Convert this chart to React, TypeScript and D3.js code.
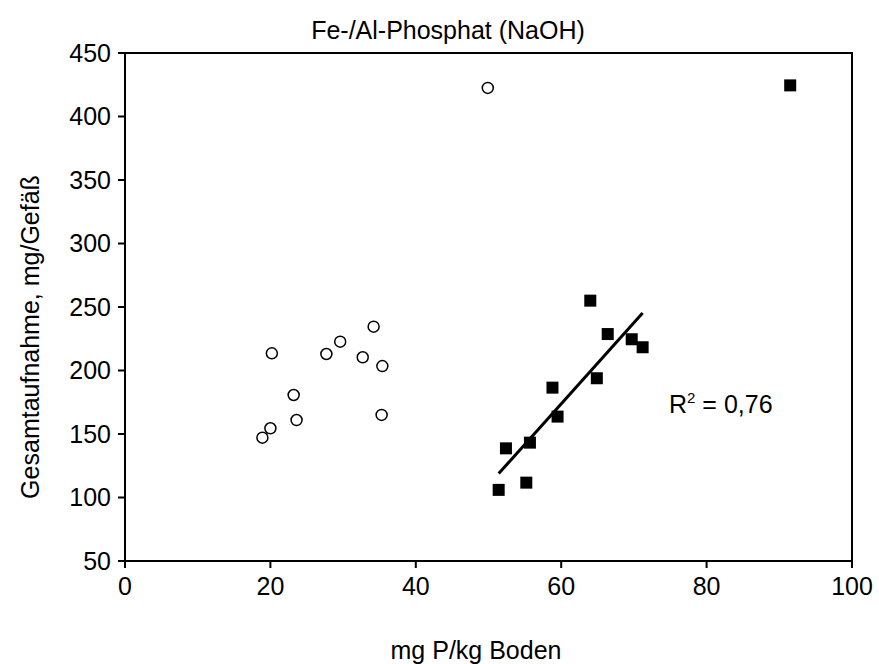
import React from "react";
import * as d3 from "d3";

const openX = [34.2, 29.6, 20.2, 27.7, 32.7, 35.4, 23.2, 23.6, 35.3, 20.0, 18.9, 49.9];
const openY = [234.5, 222.7, 213.5, 213, 210.4, 203.5, 180.7, 161, 165, 154.5, 147.1, 422.5];
const fillX = [64.0, 66.4, 69.7, 71.2, 64.9, 58.8, 59.5, 55.7, 52.4, 55.2, 51.4, 91.5];
const fillY = [255, 228.7, 224.6, 218.3, 193.9, 186.5, 163.7, 143.2, 138.7, 111.7, 106, 424.5];
const xTicks = [0, 20, 40, 60, 80, 100];
const yTicks = [50, 100, 150, 200, 250, 300, 350, 400, 450];
const title = "Fe-/Al-Phosphat (NaOH)";
const xLabel = "mg P/kg Boden";
const yLabel = "Gesamtaufnahme, mg/Gefäß";
const r2Text = "0,76";

const W = 879, H = 664;
const L = 125, R = 852, T = 53, B = 561;
const font = "Arial, 'Liberation Sans', sans-serif";
const fs = 25;

export default function App() {
  const x = d3.scaleLinear().domain([0, 100]).range([L, R]);
  const y = d3.scaleLinear().domain([50, 450]).range([B, T]);

  // regression over filled points excluding outlier (last)
  const rx = fillX.slice(0, 11), ry = fillY.slice(0, 11);
  const mx = d3.mean(rx)!, my = d3.mean(ry)!;
  let sxy = 0, sxx = 0;
  rx.forEach((v, i) => { sxy += (v - mx) * (ry[i] - my); sxx += (v - mx) ** 2; });
  const slope = sxy / sxx, icpt = my - slope * mx;
  const [x0, x1] = d3.extent(rx) as [number, number];

  return (
    <svg width={W} height={H} style={{ position: "absolute", left: 0, top: 0, background: "#fff" }}
      fontFamily={font}>
      <rect x={0} y={0} width={W} height={H} fill="#fff" />
      <text x={448} y={39} textAnchor="middle" fontSize={fs}>{title}</text>
      <rect x={L} y={T} width={R - L} height={B - T} fill="none" stroke="#000" strokeWidth={2} />
      {yTicks.map((t) => (
        <g key={"y" + t}>
          <line x1={L - 7} x2={L} y1={y(t)} y2={y(t)} stroke="#000" strokeWidth={2} />
          <text x={L - 14} y={y(t)} dy="0.35em" textAnchor="end" fontSize={fs}>{t}</text>
        </g>
      ))}
      {xTicks.map((t) => (
        <g key={"x" + t}>
          <line x1={x(t)} x2={x(t)} y1={B} y2={B + 7} stroke="#000" strokeWidth={2} />
          <text x={x(t)} y={B + 25} dy="0.35em" textAnchor="middle" fontSize={fs}>{t}</text>
        </g>
      ))}
      <text x={476} y={650} dy="0.35em" textAnchor="middle" fontSize={fs}>{xLabel}</text>
      <text transform={`translate(39,337) rotate(-90)`} textAnchor="middle" fontSize={fs}>{yLabel}</text>
      <line x1={x(x0)} x2={x(x1)} y1={y(icpt + slope * x0)} y2={y(icpt + slope * x1)} stroke="#000" strokeWidth={3} />
      {openX.map((v, i) => (
        <circle key={"o" + i} cx={x(v)} cy={y(openY[i])} r={5.5} fill="#fff" stroke="#000" strokeWidth={1.5} />
      ))}
      {fillX.map((v, i) => (
        <rect key={"f" + i} x={x(v) - 6} y={y(fillY[i]) - 6} width={12} height={12} fill="#000" />
      ))}
      <text x={669} y={413} fontSize={fs}>
        R<tspan dy={-10} fontSize={15}>2</tspan><tspan dy={10}> = {r2Text}</tspan>
      </text>
    </svg>
  );
}
